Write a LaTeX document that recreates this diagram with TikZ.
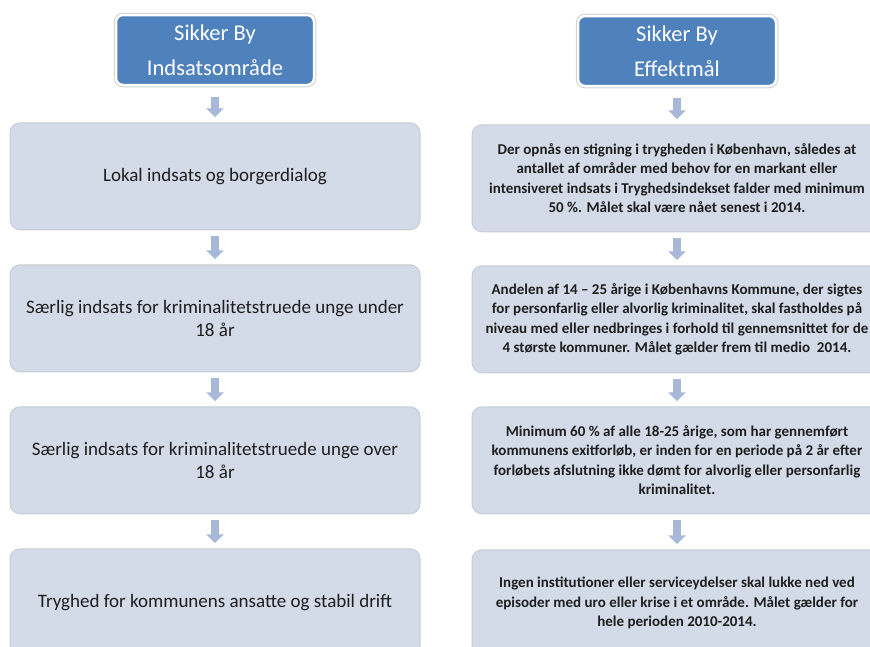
\documentclass[tikz,border=0pt]{standalone}
\usepackage{fontspec}
\setmainfont{Carlito}
\usepackage{tikz}
\usetikzlibrary{positioning, arrows.meta}
\definecolor{hdrblue}{RGB}{79,129,189}
\definecolor{boxfill}{RGB}{211,218,232}
\definecolor{boxline}{RGB}{200,204,212}
\definecolor{arrowblue}{RGB}{167,184,216}
\definecolor{txtgray}{RGB}{30,30,30}
\tikzstyle{header} = [rectangle, rounded corners=7pt, minimum width=198pt, minimum height=70pt, align=center, text=white, fill=hdrblue, draw=white, line width=2.5pt, preaction={draw=black!18, line width=4.5pt}, font=\fontsize{22.5}{35}\selectfont]
\tikzstyle{omraade} = [rectangle, rounded corners=10pt, minimum width=410pt, minimum height=107pt, align=center, text=txtgray, fill=boxfill, draw=boxline, line width=1pt, font=\fontsize{19}{23}\selectfont]
\tikzstyle{maal} = [omraade, font=\fontsize{15}{19.5}\selectfont\bfseries]
\tikzstyle{arrow} = [line width=8pt, draw=arrowblue, -{Triangle[width=17pt,length=9pt]}, shorten <=6pt, shorten >=5pt]

\begin{document}
\begin{tikzpicture}[x=1pt, y=-1pt]
\useasboundingbox (0,0) rectangle (870,646);
\clip (0,0) rectangle (870,646);
% venstre kolonne
\node (indsats) [header] at (215,50) {Sikker By\\Indsatsområde};
\node (lokal) [omraade, below=36pt of indsats] {Lokal indsats og borgerdialog};
\node (under18) [omraade, below=34pt of lokal] {Særlig indsats for kriminalitetstruede unge under\\18 år};
\node (over18) [omraade, below=34pt of under18] {Særlig indsats for kriminalitetstruede unge over\\18 år};
\node (ansatte) [omraade, below=34pt of over18] {Tryghed for kommunens ansatte og stabil drift};
% hoejre kolonne
\node (effekt) [header] at (677,51) {Sikker By\\Effektmål};
\node (maal1) [maal, below=37pt of effekt] {Der opnås en stigning i trygheden i København, således at\\antallet af områder med behov for en markant eller\\intensiveret indsats i Tryghedsindekset falder med minimum\\50 \%. Målet skal være nået senest i 2014.};
\node (maal2) [maal, below=33pt of maal1] {Andelen af 14 -- 25 årige i Københavns Kommune, der sigtes\\for personfarlig eller alvorlig kriminalitet, skal fastholdes på\\niveau med eller nedbringes i forhold til gennemsnittet for de\\4 største kommuner. Målet gælder frem til medio\ \ 2014.};
\node (maal3) [maal, below=33pt of maal2] {Minimum 60 \% af alle 18-25 årige, som har gennemført\\kommunens exitforløb, er inden for en periode på 2 år efter\\forløbets afslutning ikke dømt for alvorlig eller personfarlig\\kriminalitet.};
\node (maal4) [maal, below=35pt of maal3] {Ingen institutioner eller serviceydelser skal lukke ned ved\\episoder med uro eller krise i et område. Målet gælder for\\hele perioden 2010-2014.};
\draw [arrow, shorten <=11pt] (indsats) -- (lokal);
\draw [arrow] (lokal) -- (under18);
\draw [arrow] (under18) -- (over18);
\draw [arrow] (over18) -- (ansatte);
\draw [arrow, shorten <=11pt] (effekt) -- (maal1);
\draw [arrow] (maal1) -- (maal2);
\draw [arrow] (maal2) -- (maal3);
\draw [arrow] (maal3) -- (maal4);
\end{tikzpicture}
\end{document}
